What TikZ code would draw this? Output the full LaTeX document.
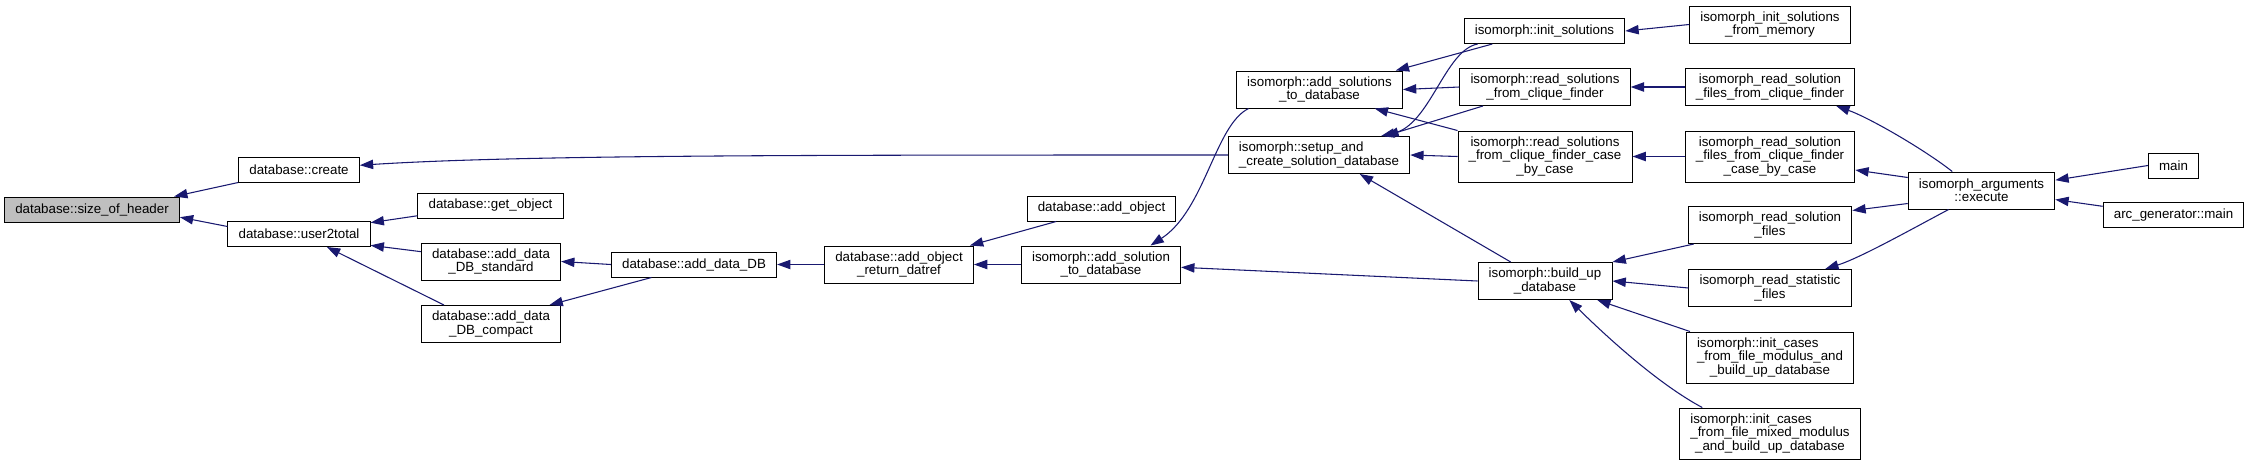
\documentclass[tikz,border=0pt]{standalone}
\usepackage{fontspec}
\setmainfont{Liberation Sans}
\usetikzlibrary{arrows.meta}
\definecolor{cEdge}{HTML}{191970}
\definecolor{cRoot}{HTML}{BFBFBF}

\begin{document}
\begin{tikzpicture}[x=0.75pt,y=-0.75pt,font=\fontsize{10}{10}\selectfont,
   >={Triangle[length=10pt,width=7pt]},
   fn/.style={draw=black,fill=white,line width=0.75pt,align=center,
              inner xsep=8pt,inner ysep=1pt,minimum height=18.75pt},
   fn2/.style={fn,minimum height=27.75pt},
   fn3/.style={fn,minimum height=38.25pt},
   cl/.style={->,draw=cEdge,line width=0.8pt}]
  \useasboundingbox (0,0) rectangle (2249,465);
  \node[fn,fill=cRoot] (hdr) at (92,209.5) {database::size\_of\_header};
  \node[fn]  (crt)  at (299,169.5)   {database::create};
  \node[fn]  (u2t)  at (299,234)     {database::user2total};
  \node[fn]  (gobj) at (490.5,205.5) {database::get\_object};
  \node[fn2] (dstd) at (491,261.5)   {database::add\_data\\\_DB\_standard};
  \node[fn2] (dcmp) at (491,324)     {database::add\_data\\\_DB\_compact};
  \node[fn]  (ddb)  at (694,264.5)   {database::add\_data\_DB};
  \node[fn2] (dref) at (899,264.5)   {database::add\_object\\\_return\_datref};
  \node[fn]  (aobj) at (1101.5,208.5) {database::add\_object};
  \node[fn2] (asol) at (1101,264.5)  {isomorph::add\_solution\\\_to\_database};
  \node[fn2] (asols) at (1319.5,89.5) {isomorph::add\_solutions\\\_to\_database};
  \node[fn2] (setup) at (1319,155)
     {\rlap{isomorph::setup\_and}\phantom{\_create\_solution\_database}\\\_create\_solution\_database};
  \node[fn]  (isol) at (1544.5,31)   {isomorph::init\_solutions};
  \node[fn2] (rsc)  at (1545,87)     {isomorph::read\_solutions\\\_from\_clique\_finder};
  \node[fn3] (rscc) at (1545,156.5)  {isomorph::read\_solutions\\\_from\_clique\_finder\_case\\\_by\_case};
  \node[fn2] (bud)  at (1545,281)    {isomorph::build\_up\\\_database};
  \node[fn2] (imem) at (1770,24.5)   {isomorph\_init\_solutions\\\_from\_memory};
  \node[fn2] (rfc)  at (1770,87)     {isomorph\_read\_solution\\\_files\_from\_clique\_finder};
  \node[fn3] (rfcc) at (1770,156.5)  {isomorph\_read\_solution\\\_files\_from\_clique\_finder\\\_case\_by\_case};
  \node[fn2] (rsf)  at (1770,225)    {isomorph\_read\_solution\\\_files};
  \node[fn2] (rst)  at (1770,288)    {isomorph\_read\_statistic\\\_files};
  \node[fn3] (icm)  at (1770,357.5)
     {\rlap{isomorph::init\_cases}\phantom{\_from\_file\_modulus\_and}\\\_from\_file\_modulus\_and\\\_build\_up\_database};
  \node[fn3] (icx)  at (1770,433.5)
     {\rlap{isomorph::init\_cases}\phantom{\_from\_file\_mixed\_modulus}\\\_from\_file\_mixed\_modulus\\\_and\_build\_up\_database};
  \node[fn2] (exe)  at (1981.5,190.5) {isomorph\_arguments\\::execute};
  \node[fn]  (mn)   at (2173.5,165.5) {main};
  \node[fn]  (arc)  at (2173.5,215)   {arc\_generator::main};
  \draw[cl] (crt.south west) -- (hdr.9);
  \draw[cl] (u2t.174) -- (hdr.-5);
  \draw[cl] (setup.west) .. controls (800,155) and (520,155) .. (crt.4);
  \draw[cl] (gobj.188) -- (u2t.9);
  \draw[cl] (dstd.172) -- (u2t.-9);
  \draw[cl] (dcmp.158) -- (u2t.-25);
  \draw[cl] (ddb.west) -- (dstd.east);
  \draw[cl] (ddb.197) -- (dcmp.18);
  \draw[cl] (dref.west) -- (ddb.east);
  \draw[cl] (aobj.196) -- (dref.15);
  \draw[cl] (asol.west) -- (dref.east);
  \draw[cl] (asols.195) .. controls (1215,125) and (1205,210) .. (asol.21);
  \draw[cl] (bud.west) -- (asol.-2);
  \draw[cl] (isol.194) -- (asols.14);
  \draw[cl] (rsc.west) -- (asols.east);
  \draw[cl] (rscc.north west) -- (asols.-19);
  \draw[cl] (isol.191) .. controls (1445,50) and (1430,125) .. (setup.17);
  \draw[cl] (rsc.197) -- (setup.16);
  \draw[cl] (rscc.west) -- (setup.east);
  \draw[cl] (bud.151) -- (setup.-25);
  \draw[cl] (imem.west) -- (isol.east);
  \draw[cl] (rfc.west) -- (rsc.east);
  \draw[cl] (rfcc.west) -- (rscc.east);
  \draw[cl] (rsf.194) -- (bud.north east);
  \draw[cl] (rst.west) -- (bud.east);
  \draw[cl] (icm.162) -- (bud.-20);
  \draw[cl] (icx.159) .. controls (1660,385) and (1610,340) .. (bud.-38);
  \draw[cl] (exe.147) .. controls (1925,150) and (1870,118) .. (rfc.-16);
  \draw[cl] (exe.170) -- (rfcc.-9);
  \draw[cl] (exe.190) -- (rsf.10);
  \draw[cl] (exe.210) .. controls (1910,230) and (1860,258) .. (rst.19);
  \draw[cl] (mn.west) -- (exe.8);
  \draw[cl] (arc.173) -- (exe.-7);
\end{tikzpicture}
\end{document}
